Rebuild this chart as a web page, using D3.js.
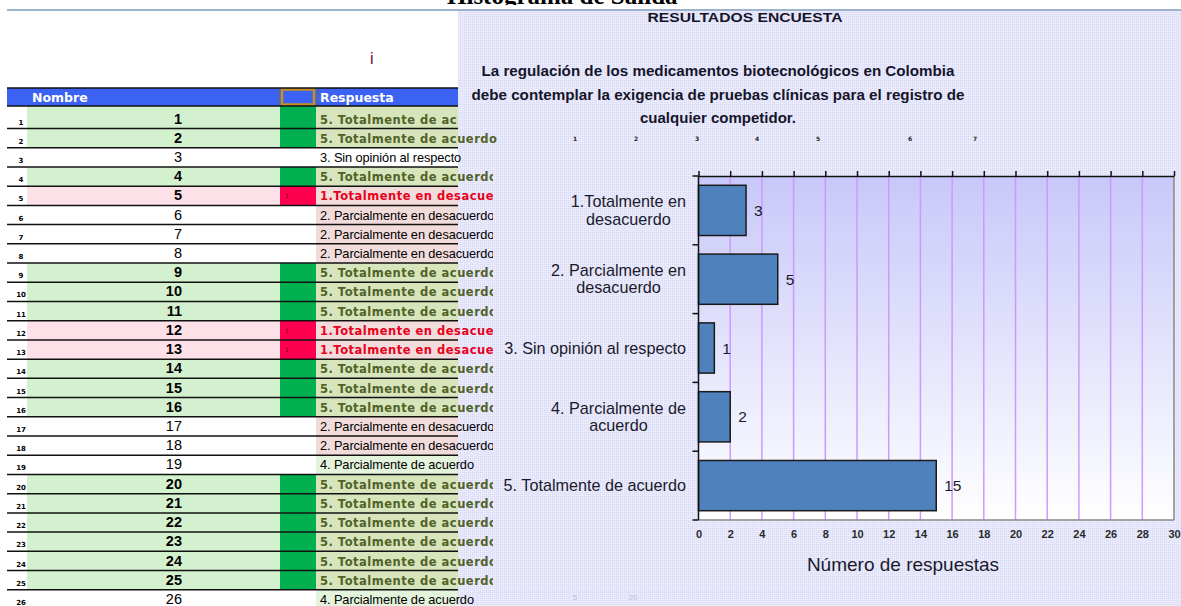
<!DOCTYPE html>
<html><head><meta charset="utf-8">
<script src="https://cdn.jsdelivr.net/npm/d3@7"></script>
<style>html,body{margin:0;padding:0;background:#fff;overflow:hidden}</style>
</head><body>
<svg id="c" width="1181" height="606"></svg>
<script>
// ---------- data ----------
const categories = ["1.Totalmente en desacuerdo", "2. Parcialmente en desacuerdo", "3. Sin opinión al respecto", "4. Parcialmente de acuerdo", "5. Totalmente de acuerdo"];
const categoryLines = [["1.Totalmente en", "desacuerdo"], ["2. Parcialmente en", "desacuerdo"], ["3. Sin opinión al respecto"], ["4. Parcialmente de", "acuerdo"], ["5. Totalmente de acuerdo"]];
const counts = [3, 5, 1, 2, 15];
const xTicks = [0, 2, 4, 6, 8, 10, 12, 14, 16, 18, 20, 22, 24, 26, 28, 30];
const names = [1, 2, 3, 4, 5, 6, 7, 8, 9, 10, 11, 12, 13, 14, 15, 16, 17, 18, 19, 20, 21, 22, 23, 24, 25, 26];
const answers = [5, 5, 3, 5, 1, 2, 2, 2, 5, 5, 5, 1, 1, 5, 5, 5, 2, 2, 4, 5, 5, 5, 5, 5, 5, 4];
const smallMarks = ["1", "2", "3", "4", "5", "6", "7"];
const chartTitle = "RESULTADOS ENCUESTA";
const question = ["La regulación de los medicamentos biotecnológicos en Colombia", "debe contemplar la exigencia de pruebas clínicas para el registro de", "cualquier competidor."];
const xTitle = "Número de respuestas";

// ---------- setup ----------
const svg = d3.select("#c");
const defs = svg.append("defs");
const pat = defs.append("pattern").attr("id", "dots").attr("width", 2).attr("height", 2).attr("patternUnits", "userSpaceOnUse");
pat.append("rect").attr("width", 2).attr("height", 2).attr("fill", "#eaeafd");
pat.append("rect").attr("width", 1).attr("height", 1).attr("fill", "#d8d8f5");
const grad = defs.append("linearGradient").attr("id", "pg").attr("x1", 0).attr("y1", 0).attr("x2", 0).attr("y2", 1);
grad.append("stop").attr("offset", "0").attr("stop-color", "#c8c8f9");
grad.append("stop").attr("offset", "0.55").attr("stop-color", "#e6e6fd");
grad.append("stop").attr("offset", "1").attr("stop-color", "#ffffff");
[["c1", 458], ["c2", 500], ["c3", 493]].forEach(([id, w]) => {
  defs.append("clipPath").attr("id", id).append("rect").attr("x", 0).attr("y", 0).attr("width", w).attr("height", 606);
});

// top bar and cut-off heading
svg.append("text").attr("x", 447).attr("y", 4).attr("font-family", "Liberation Serif, serif")
  .attr("font-weight", "bold").attr("font-size", 25).attr("fill", "#000").text("Histograma de Salida");
svg.append("rect").attr("x", 0).attr("y", 5).attr("width", 1181).attr("height", 4).attr("fill", "#fff");
svg.append("line").attr("x1", 7).attr("x2", 1181).attr("y1", 10).attr("y2", 10).attr("stroke", "#9db2cc").attr("stroke-width", 2);

// chart panel background
svg.append("rect").attr("x", 458).attr("y", 11).attr("width", 723).attr("height", 595).attr("fill", "url(#dots)");

// ---------- spreadsheet ----------
const T = svg.append("g");
T.append("text").attr("x", 370).attr("y", 64).attr("font-family", "Liberation Sans, Arial").attr("font-size", 16).attr("fill", "#7a1030").text("i");
T.append("rect").attr("x", 7).attr("y", 88).attr("width", 451).attr("height", 18).attr("fill", "#3b62f2");
T.append("rect").attr("x", 282).attr("y", 89.5).attr("width", 32).attr("height", 15).attr("fill", "none").attr("stroke", "#c8901a").attr("stroke-width", 2.5);
T.append("line").attr("x1", 279).attr("x2", 279).attr("y1", 88).attr("y2", 107).attr("stroke", "#666");
T.append("line").attr("x1", 318).attr("x2", 318).attr("y1", 88).attr("y2", 107).attr("stroke", "#666");
T.append("text").attr("x", 32).attr("y", 102).attr("font-family", "DejaVu Sans").attr("font-weight", "bold").attr("font-size", 12.5).attr("fill", "#fff").text("Nombre");
T.append("text").attr("x", 320).attr("y", 102).attr("font-family", "DejaVu Sans").attr("font-weight", "bold").attr("font-size", 12.5).attr("fill", "#fff").text("Respuesta");

const rowTop = i => i === 0 ? 106 : 128.5 + (i - 1) * 19.22;
const rowBot = i => 128.5 + i * 19.22;
const nameBg = {5: "#d3f1cf", 1: "#fde0e8"};
const markBg = {5: "#00b050", 1: "#ff0050"};
const respBg = {5: "#d8e4bc", 1: "#f2dcdb", 2: "#f2dcdb", 4: "#e4f3dc"};

names.forEach((n, i) => {
  const a = answers[i], t = rowTop(i), b = rowBot(i);
  if (nameBg[a]) T.append("rect").attr("x", 27).attr("y", t).attr("width", 253).attr("height", b - t).attr("fill", nameBg[a]);
  if (markBg[a]) T.append("rect").attr("x", 280).attr("y", t).attr("width", 36).attr("height", b - t).attr("fill", markBg[a]);
  if (respBg[a]) T.append("rect").attr("x", 316).attr("y", t).attr("width", 142).attr("height", b - t).attr("fill", respBg[a]);
  if (a === 1) T.append("text").attr("x", 285).attr("y", b - 7).attr("font-family", "DejaVu Sans").attr("font-size", 6).attr("fill", "#700").text("1");
  T.append("text").attr("x", 21).attr("y", b - 4).attr("text-anchor", "middle").attr("font-family", "DejaVu Sans").attr("font-weight", "bold").attr("font-size", 7).attr("fill", "#000").text(n);
  const strong = (a === 5 || a === 1);
  T.append("text").attr("x", 182).attr("y", b - 5).attr("text-anchor", "end").attr("font-family", "Liberation Sans, Arial")
    .attr("font-weight", strong ? "bold" : "normal").attr("font-size", 14.5).attr("fill", "#000").text(n);
  const clip = i === 0 ? "c1" : (i === 1 ? "c2" : "c3");
  T.append("text").attr("x", 320).attr("y", b - 5).attr("clip-path", `url(#${clip})`)
    .attr("font-family", strong ? "DejaVu Sans" : "Liberation Sans, Arial")
    .attr("font-weight", strong ? "bold" : "normal")
    .attr("font-size", strong ? 11.5 : 12.8)
    .attr("letter-spacing", strong ? 0.5 : -0.1)
    .attr("fill", a === 5 ? "#4f6228" : (a === 1 ? "#e8001c" : "#000"))
    .text(categories[a - 1]);
});
[88, 106].concat(names.map((n, i) => rowBot(i))).forEach(yy => {
  T.append("line").attr("x1", 7).attr("x2", 458).attr("y1", yy).attr("y2", yy).attr("stroke", "#111").attr("stroke-width", 1.5);
});

// ---------- chart ----------
const C = svg.append("g").attr("font-family", "Liberation Sans, Arial");
C.append("text").attr("x", 745).attr("y", 22).attr("text-anchor", "middle").attr("font-weight", "bold").attr("font-size", 13.5)
  .attr("fill", "#15152a").attr("textLength", 195).attr("lengthAdjust", "spacingAndGlyphs").text(chartTitle);
const qLens = [473, 493, 156];
question.forEach((q, k) => {
  C.append("text").attr("x", 718).attr("y", 76 + k * 23.5).attr("text-anchor", "middle").attr("font-weight", "bold").attr("font-size", 15.5)
    .attr("fill", "#15152a").attr("textLength", qLens[k]).attr("lengthAdjust", "spacingAndGlyphs").text(q);
});
const smallX = [575, 636, 697, 757, 818, 910, 975];
smallMarks.forEach((s, k) => {
  C.append("text").attr("x", smallX[k]).attr("y", 141).attr("text-anchor", "middle").attr("font-family", "DejaVu Sans").attr("font-weight", "bold").attr("font-size", 6).attr("fill", "#222").text(s);
});

const x0 = 698.5, x1 = 1174, y0 = 176, y1 = 520;
const x = d3.scaleLinear().domain([0, 30]).range([x0, x1]);
const yb = d3.scaleBand().domain(categories).range([y0, y1]).paddingInner(0.27).paddingOuter(0.135);
const yr = d3.scaleBand().domain(categories).range([y0, y1]).padding(0);

C.append("rect").attr("x", x0).attr("y", y0).attr("width", x1 - x0).attr("height", y1 - y0).attr("fill", "url(#pg)");
C.append("g").selectAll("line").data(xTicks.filter(v => v > 0 && v < 30)).join("line")
  .attr("x1", d => x(d)).attr("x2", d => x(d)).attr("y1", y0).attr("y2", y1)
  .attr("stroke", "#cc99ff").attr("stroke-width", 1.5);
C.append("line").attr("x1", x1).attr("x2", x1).attr("y1", y0).attr("y2", y1).attr("stroke", "#888").attr("stroke-width", 1.5);
C.append("line").attr("x1", x0).attr("x2", x1).attr("y1", y1).attr("y2", y1).attr("stroke", "#888").attr("stroke-width", 1.5);

// bars
C.append("g").selectAll("rect").data(counts).join("rect")
  .attr("x", x(0)).attr("y", (d, i) => yb(categories[i])).attr("width", d => x(d) - x(0)).attr("height", yb.bandwidth())
  .attr("fill", "#4f81bd").attr("stroke", "#1a1a1a").attr("stroke-width", 1.5);
C.append("g").selectAll("text").data(counts).join("text")
  .attr("x", d => x(d) + 8).attr("y", (d, i) => yb(categories[i]) + yb.bandwidth() / 2 + 5.5)
  .attr("font-size", 15.5).attr("fill", "#1a1a2a").text(d => d);

// top axis with ticks
const topAx = C.append("g").attr("transform", `translate(0,${y0})`).call(d3.axisTop(x).tickValues(xTicks).tickSize(5).tickSizeOuter(0).tickFormat(""));
topAx.select(".domain").attr("stroke", "#111").attr("stroke-width", 1.5);
topAx.selectAll(".tick line").attr("stroke", "#111").attr("stroke-width", 1.5);

// bottom tick labels
const botAx = C.append("g").attr("transform", `translate(0,${y1})`).call(d3.axisBottom(x).tickValues(xTicks).tickSize(0).tickPadding(10));
botAx.select(".domain").remove();
botAx.selectAll("text").attr("font-family", "Liberation Sans, Arial").attr("font-size", 11).attr("font-weight", "bold").attr("fill", "#2a2a2a");

// left axis
C.append("line").attr("x1", x0).attr("x2", x0).attr("y1", y0).attr("y2", y1).attr("stroke", "#111").attr("stroke-width", 1.5);
const bounds = categories.map(c => yr(c)).concat([y1]);
C.append("g").selectAll("line").data(bounds).join("line")
  .attr("x1", x0 - 6).attr("x2", x0).attr("y1", d => d).attr("y2", d => d).attr("stroke", "#111").attr("stroke-width", 1.5);

// category labels
categoryLines.forEach((lines, i) => {
  const g = C.append("text").attr("font-size", 16.2).attr("fill", "#1a1a2a").attr("text-anchor", "middle");
  const c = yb(categories[i]) + yb.bandwidth() / 2;
  const ts = lines.map((l, k) => g.append("tspan").attr("y", c + (k - (lines.length - 1) / 2) * 17.5 + 5.5).text(l));
  const maxW = d3.max(ts, t => t.node().getComputedTextLength());
  ts.forEach(t => t.attr("x", 686 - maxW / 2));
});

// axis title
C.append("text").attr("x", 903).attr("y", 571).attr("text-anchor", "middle").attr("font-size", 19).attr("fill", "#1a1a2a").text(xTitle);

// faint bottom artefacts
C.append("line").attr("x1", 480).attr("x2", 1181).attr("y1", 592).attr("y2", 592).attr("stroke", "#d4ccf0").attr("stroke-dasharray", "1,2");
C.append("text").attr("x", 575).attr("y", 600).attr("text-anchor", "middle").attr("font-size", 8).attr("fill", "#c4b8e4").text("5");
C.append("text").attr("x", 633).attr("y", 600).attr("text-anchor", "middle").attr("font-size", 8).attr("fill", "#c4b8e4").text("20");
</script></body></html>
